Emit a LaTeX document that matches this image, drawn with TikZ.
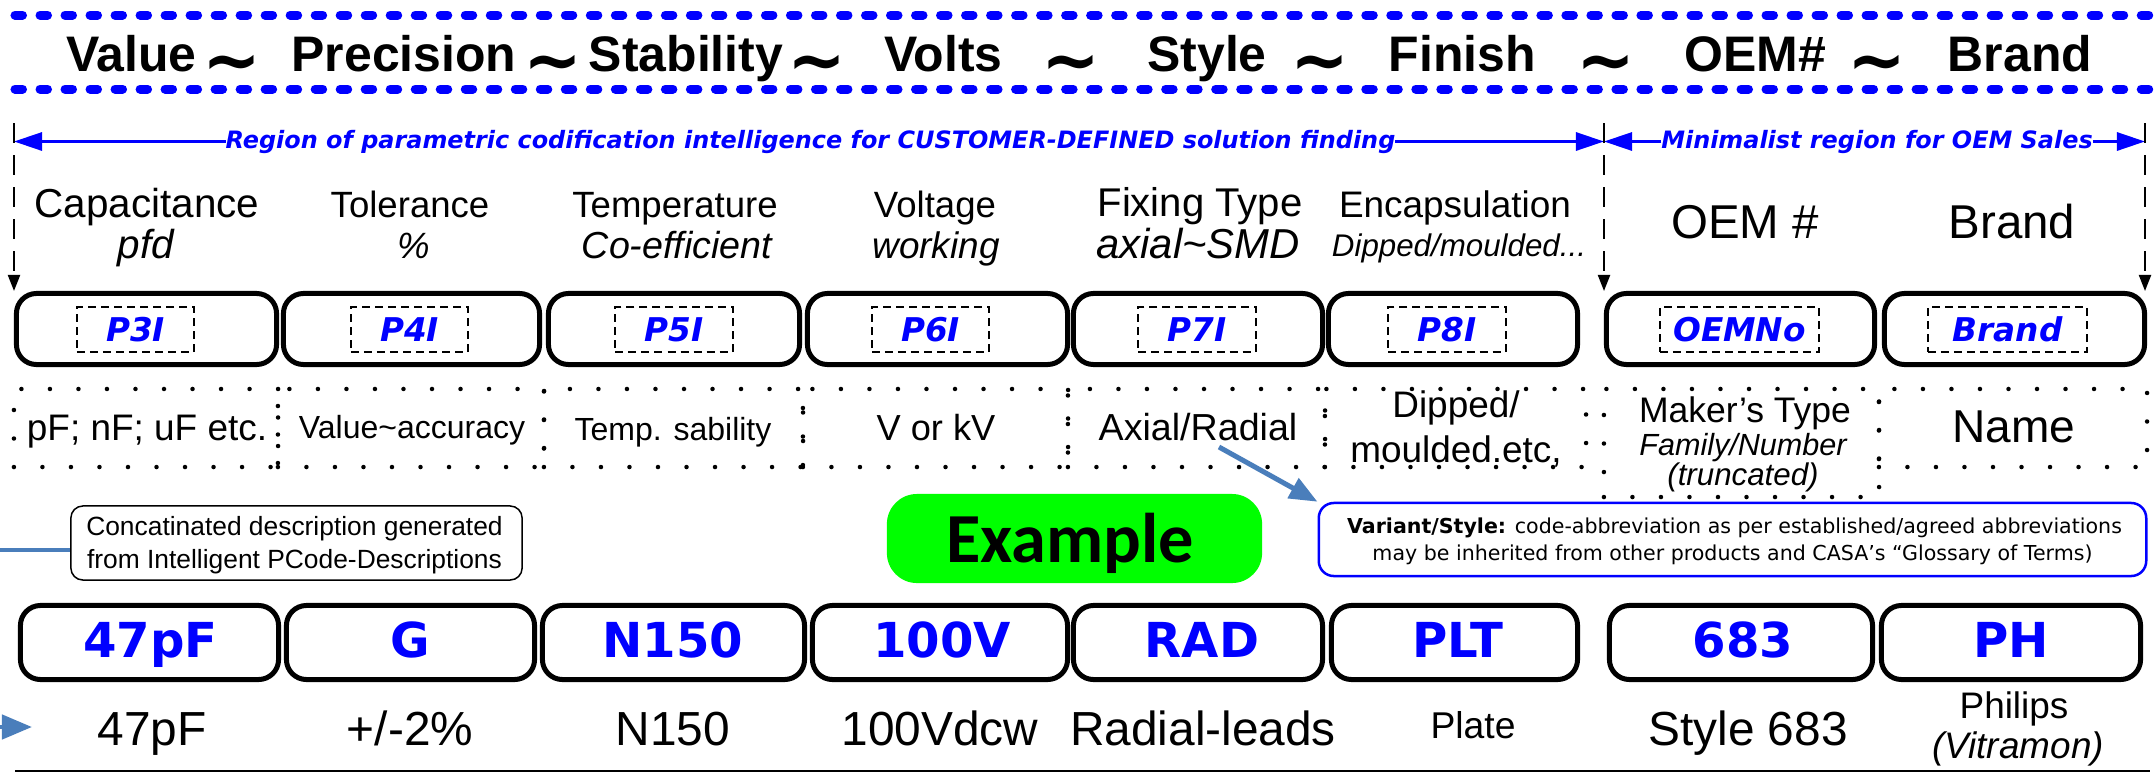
\documentclass[tikz,border=0pt]{standalone}
\usepackage{fontspec}
\setmainfont{Liberation Sans}
\newfontfamily\dvs{DejaVu Sans}[ItalicFont={DejaVu Sans Oblique},BoldFont={DejaVu Sans Bold},BoldItalicFont={DejaVu Sans Bold Oblique}]
\newfontfamily\carl{Carlito}
\usetikzlibrary{arrows.meta}
\definecolor{pblue}{RGB}{0,0,255}
\definecolor{steel}{RGB}{74,126,187}
\definecolor{lgreen}{RGB}{0,255,0}
\newcommand{\fs}[1]{\fontsize{#1}{#1}\selectfont}
\tikzset{
  txt/.style={anchor=base, inner sep=0pt, outer sep=0pt},
  hdr/.style={txt, font=\fs{14.2pt}\bfseries},
  tld/.style={txt, font=\dvs\fs{20pt}\bfseries},
  lab/.style={txt, font=\fs{#1}},
  labi/.style={txt, font=\fs{#1}\itshape},
  codebox/.style={draw, line width=0.05cm, rounded corners=0.2cm, minimum height=0.71cm, inner sep=0pt},
  exbox/.style={draw, line width=0.05cm, rounded corners=0.2cm, minimum height=0.74cm, inner sep=0pt},
  pcode/.style={draw, line width=0.02cm, dash pattern=on 0.08cm off 0.05cm, minimum width=#1, minimum height=0.45cm, inner sep=0pt, font=\dvs\fs{9.3pt}\bfseries\itshape, text=pblue},
  dotbox/.style={draw, line width=0.045cm, dash pattern=on 0pt off 0.285cm, line cap=round, inner sep=0pt, minimum height=0.78cm},
  ecode/.style={txt, font=\dvs\fs{13.7pt}\bfseries, text=pblue},
  hdots/.style={draw=pblue, line width=0.09cm, dash pattern=on 0.075cm off 0.175cm, line cap=round},
  rarr/.style={draw=pblue, line width=0.03cm, -{Triangle[length=0.28cm,width=0.18cm]}},
  vdash/.style={draw, line width=0.02cm, dash pattern=on 0.2cm off 0.12cm, -{Triangle[length=0.16cm,width=0.12cm]}},
  rtxt/.style={txt, font=\dvs\fs{6.8pt}\bfseries\itshape, text=pblue},
  steelarr/.style={draw=steel, line width=0.05cm, -{Triangle[length=0.28cm,width=0.22cm]}},
  vtxt/.style={txt, font=\dvs\fs{5.85pt}},
  ctxt/.style={txt, font=\fs{7.5pt}},
}
\begin{document}
\begin{tikzpicture}[x=0.01cm,y=-0.01cm]
\useasboundingbox (0,0) rectangle (2156,772);

% header dotted lines
\coordinate (h1a) at (15,15); \coordinate (h1b) at (2156,15);
\coordinate (h2a) at (15,89); \coordinate (h2b) at (2156,89);
\draw[hdots] (h1a) -- (h1b);
\draw[hdots] (h2a) -- (h2b);

% header words
\node[hdr] (w1) at (131.5,71) {Value};
\node[tld] (s1) at (232,84) {\textasciitilde};
\node[hdr] (w2) at (404,71) {Precision};
\node[tld] (s2) at (553,84) {\textasciitilde};
\node[hdr] (w3) at (686,71) {Stability};
\node[tld] (s3) at (817,84) {\textasciitilde};
\node[hdr] (w4) at (943.5,71) {Volts};
\node[tld] (s4) at (1071,84) {\textasciitilde};
\node[hdr] (w5) at (1207,71) {Style};
\node[tld] (s5) at (1319.5,84) {\textasciitilde};
\node[hdr] (w6) at (1462.5,71) {Finish};
\node[tld] (s6) at (1606,84) {\textasciitilde};
\node[hdr] (w7) at (1755,71) {OEM\#};
\node[tld] (s7) at (1877,84) {\textasciitilde};
\node[hdr] (w8) at (2020,71) {Brand};

% region arrows
\node[rtxt] (rt) at (810.5,148) {Region of parametric codification intelligence for CUSTOMER-DEFINED solution finding};
\node[rtxt] (mt) at (1877,148) {Minimalist region for OEM Sales};
\coordinate (rL) at (14,140); \coordinate (rM) at (1604,140); \coordinate (rR) at (2145,140);
\draw[rarr] (rt.west) -- (rt.west -| rL);
\draw[rarr] (rt.east) -- (rt.east -| rM);
\draw[rarr] (mt.west) -- (mt.west -| rM);
\draw[rarr] (mt.east) -- (mt.east -| rR);

% vertical dashed arrows
\coordinate (vLa) at (14,123); \coordinate (vLb) at (14,291);
\coordinate (vMa) at (1604,123); \coordinate (vMb) at (1604,291);
\coordinate (vRa) at (2145,123); \coordinate (vRb) at (2145,291);
\draw[vdash] (vLa) -- (vLb);
\draw[vdash] (vMa) -- (vMb);
\draw[vdash] (vRa) -- (vRb);

% category labels
\node[lab=11.5pt] (c1a) at (147,217) {Capacitance};
\node[labi=11.5pt] (c1b) at (146,258) {pfd};
\node[lab=10.4pt] (c2a) at (410,217) {Tolerance};
\node[labi=10.4pt] (c2b) at (414,258) {\%};
\node[lab=10.4pt] (c3a) at (675,217) {Temperature};
\node[labi=10.7pt] (c3b) at (677,258) {Co-efficient};
\node[lab=10.4pt] (c4a) at (935,217) {Voltage};
\node[labi=10.5pt] (c4b) at (936,258) {working};
\node[lab=11.4pt] (c5a) at (1200,216) {Fixing Type};
\node[labi=11.9pt] (c5b) at (1198,258) {axial\textasciitilde SMD};
\node[lab=10.5pt] (c6a) at (1455,217) {Encapsulation};
\node[labi=8.9pt] (c6b) at (1459,256) {Dipped/moulded...};
\node[lab=13.5pt] (c7a) at (1745,238) {OEM \#};
\node[lab=13.5pt] (c8a) at (2012,238) {Brand};

% code boxes
\node[codebox, minimum width=2.60cm] (cb1) at (146.5,329) {};
\node[codebox, minimum width=2.56cm] (cb2) at (411.5,329) {};
\node[codebox, minimum width=2.51cm] (cb3) at (674,329) {};
\node[codebox, minimum width=2.60cm] (cb4) at (937.5,329) {};
\node[codebox, minimum width=2.49cm] (cb5) at (1198,329) {};
\node[codebox, minimum width=2.49cm] (cb6) at (1453,329) {};
\node[codebox, minimum width=2.68cm] (cb7) at (1740.5,329) {};
\node[codebox, minimum width=2.60cm] (cb8) at (2014.5,329) {};
\node[pcode=1.17cm] (p3) at (135.5,329.5) {P3I};
\node[pcode=1.17cm] (p4) at (409.5,329.5) {P4I};
\node[pcode=1.17cm] (p5) at (674,329.5) {P5I};
\node[pcode=1.17cm] (p6) at (930.5,329.5) {P6I};
\node[pcode=1.17cm] (p7) at (1197,329.5) {P7I};
\node[pcode=1.17cm] (p8) at (1447,329.5) {P8I};
\node[pcode=1.59cm] (p9) at (1739.5,329.5) {OEMNo};
\node[pcode=1.59cm] (p10) at (2007.5,329.5) {Brand};

% dotted boxes
\node[dotbox, minimum width=2.64cm] (d1) at (146,428) {};
\node[dotbox, minimum width=2.66cm] (d2) at (411,428) {};
\node[dotbox, minimum width=2.59cm] (d3) at (673.5,428) {};
\node[dotbox, minimum width=2.65cm] (d4) at (935.5,428) {};
\node[dotbox, minimum width=2.57cm] (d5) at (1196.5,428) {};
\node[dotbox, minimum width=2.61cm] (d6) at (1455.5,428) {};
\node[dotbox, minimum width=2.75cm, minimum height=1.08cm] (d7) at (1741.5,443) {};
\node[dotbox, minimum width=2.68cm] (d8) at (2013,428) {};
\node[lab=10.5pt] (t1) at (147,440) {pF; nF; uF etc.};
\node[lab=9.1pt] (t2) at (412,438) {Value\textasciitilde accuracy};
\node[lab=9.1pt] (t3) at (673,440) {Temp. sability};
\node[lab=10.3pt] (t4) at (936,440) {V or kV};
\node[lab=10.7pt] (t5) at (1198,440) {Axial/Radial};
\node[lab=10.5pt] (t6a) at (1456,417) {Dipped/};
\node[lab=10.5pt] (t6b) at (1456,462) {moulded.etc,};
\node[lab=10.1pt] (t7a) at (1745,422) {Maker’s Type};
\node[labi=8.7pt] (t7b) at (1743,455) {Family/Number};
\node[labi=8.9pt] (t7c) at (1743,485) {(truncated)};
\node[lab=13.1pt] (t8) at (2014,442) {Name};

% concatenated description box
\node[draw, line width=0.015cm, rounded corners=0.12cm, minimum width=4.51cm, minimum height=0.74cm, inner sep=0pt] (cbox) at (296.5,543) {};
\node[ctxt] (cl1) at (294.5,535) {Concatinated description generated};
\node[ctxt] (cl2) at (294.5,568) {from Intelligent PCode-Descriptions};
\coordinate (cin) at (-10,550);
\draw[steel, line width=0.045cm] (cin) -- (cin -| cbox.west);

% example badge
\node[fill=lgreen, rounded corners=0.3cm, minimum width=3.75cm, minimum height=0.89cm, inner sep=0pt] (ex) at (1074.5,538.5) {};
\node[txt, font=\carl\fs{20pt}\bfseries] (ext) at (1070,562) {Example};

% variant box
\node[draw=pblue, line width=0.025cm, rounded corners=0.15cm, minimum width=8.27cm, minimum height=0.73cm, inner sep=0pt] (vbox) at (1732.5,539.5) {};
\node[vtxt] (vl1) at (1734.5,533) {\textbf{Variant/Style:} code-abbreviation as per established/agreed abbreviations};
\node[vtxt] (vl2) at (1732.5,560) {may be inherited from other products and CASA’s “Glossary of Terms)};
\coordinate (axs) at (1219,447);
\draw[steelarr] (axs) -- (vbox.north west);

% example code boxes
\node[exbox, minimum width=2.58cm] (eb1) at (149.5,642.5) {};
\node[exbox, minimum width=2.48cm] (eb2) at (410.5,642.5) {};
\node[exbox, minimum width=2.62cm] (eb3) at (673.5,642.5) {};
\node[exbox, minimum width=2.55cm] (eb4) at (940,642.5) {};
\node[exbox, minimum width=2.49cm] (eb5) at (1198,642.5) {};
\node[exbox, minimum width=2.46cm] (eb6) at (1454.5,642.5) {};
\node[exbox, minimum width=2.63cm] (eb7) at (1741,642.5) {};
\node[exbox, minimum width=2.59cm] (eb8) at (2011,642.5) {};
\node[ecode] (e1) at (150.5,657) {47pF};
\node[ecode] (e2) at (410,657) {G};
\node[ecode] (e3) at (673,657) {N150};
\node[ecode] (e4) at (942,657) {100V};
\node[ecode] (e5) at (1202,657) {RAD};
\node[ecode] (e6) at (1458,657) {PLT};
\node[ecode] (e7) at (1743,657) {683};
\node[ecode] (e8) at (2011,657) {PH};

% bottom descriptions
\node[lab=13.6pt] (b1) at (152,745) {47pF};
\node[lab=13.6pt] (b2) at (410,745) {+/-2\%};
\node[lab=13.6pt] (b3) at (673,745) {N150};
\node[lab=13.6pt] (b4) at (940,745) {100Vdcw};
\node[lab=13.6pt] (b5) at (1203,745) {Radial-leads};
\node[lab=10.6pt] (b6) at (1473,738) {Plate};
\node[lab=13.6pt] (b7) at (1748,745) {Style 683};
\node[lab=10.5pt] (b8a) at (2014,718) {Philips};
\node[labi=10.5pt] (b8b) at (2018,758) {(Vitramon)};
\coordinate (ba0) at (-20,727); \coordinate (ba1) at (32,727);
\draw[steel, line width=0.045cm, -{Triangle[length=0.3cm,width=0.24cm]}] (ba0) -- (ba1);
\coordinate (bl0) at (15,771); \coordinate (bl1) at (2150,771);
\draw[line width=0.02cm] (bl0) -- (bl1);
\end{tikzpicture}
\end{document}
